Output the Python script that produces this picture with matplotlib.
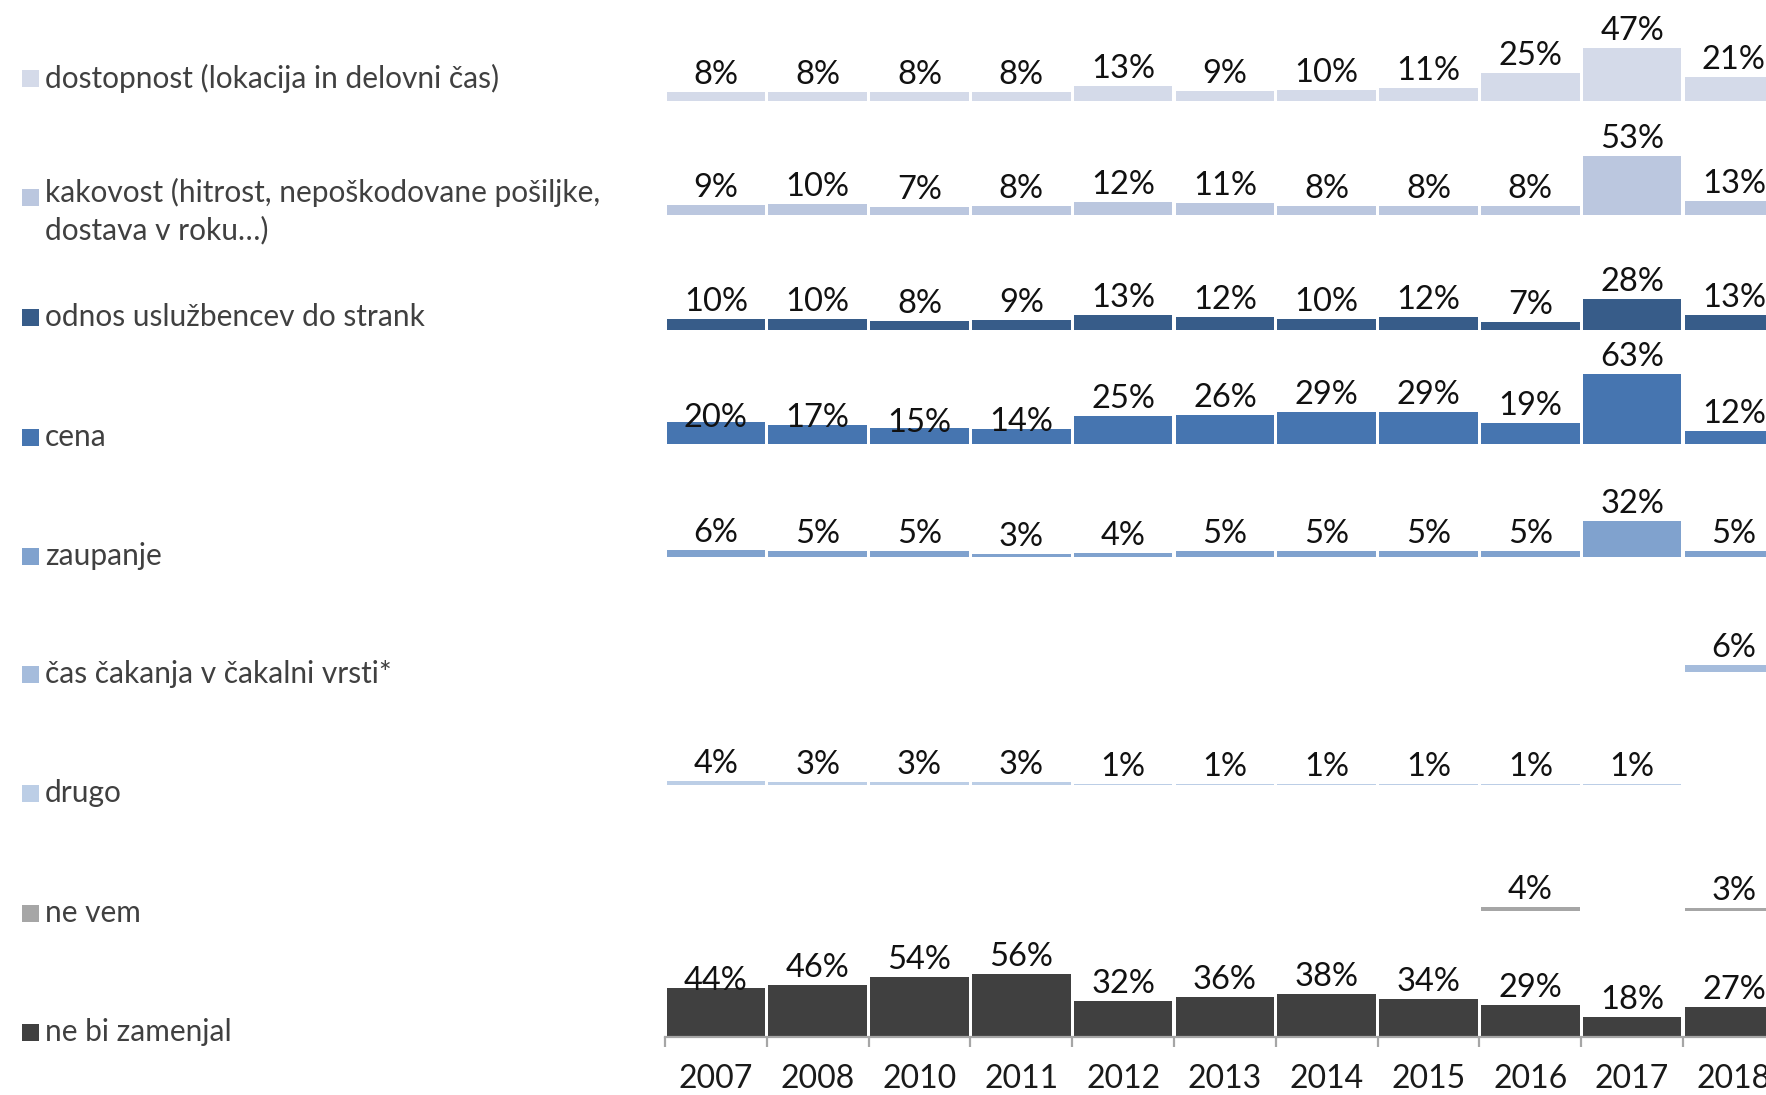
import matplotlib
matplotlib.use("Agg")
import matplotlib.pyplot as plt
from matplotlib.patches import Rectangle

plt.rcParams['font.family'] = ['Lato', 'DejaVu Sans']

# podatki
years = ['2007', '2008', '2010', '2011', '2012', '2013', '2014', '2015', '2016', '2017', '2018']
labels = ['dostopnost (lokacija in delovni čas)',
          'kakovost (hitrost, nepoškodovane pošiljke,\ndostava v roku…)',
          'odnos uslužbencev do strank',
          'cena',
          'zaupanje',
          'čas čakanja v čakalni vrsti*',
          'drugo',
          'ne vem',
          'ne bi zamenjal']
dostopnost = [8, 8, 8, 8, 13, 9, 10, 11, 25, 47, 21]
kakovost = [9, 10, 7, 8, 12, 11, 8, 8, 8, 53, 13]
odnos = [10, 10, 8, 9, 13, 12, 10, 12, 7, 28, 13]
cena = [20, 17, 15, 14, 25, 26, 29, 29, 19, 63, 12]
zaupanje = [6, 5, 5, 3, 4, 5, 5, 5, 5, 32, 5]
cas_cakanja = [None, None, None, None, None, None, None, None, None, None, 6]
drugo = [4, 3, 3, 3, 1, 1, 1, 1, 1, 1, None]
ne_vem = [None, None, None, None, None, None, None, None, 4, None, 3]
ne_bi_zamenjal = [44, 46, 54, 56, 32, 36, 38, 34, 29, 18, 27]
series = [dostopnost, kakovost, odnos, cena, zaupanje, cas_cakanja, drugo, ne_vem, ne_bi_zamenjal]

colors = ['#D4DAE9', '#BBC7DF', '#375C89', '#4675B0', '#80A2CE',
          '#A5BCDC', '#BCCEE6', '#A6A6A6', '#404040']

# postavitev (v pikslih)
W, H = 1766, 1095
px_per_pct = 1.12
row_base_px = [100.7, 215.3, 330, 444.3, 557, 671.7, 785, 911, 1037]
legend_y_px = [78, 197, 317, 437, 556, 674, 793, 913, 1032]
# nekatere oznake so v originalu zamaknjene navzdol
label_nudge = {(3, 0): -13, (3, 1): -10, (3, 2): -12, (3, 3): -10, (8, 0): -10}

fig = plt.figure(figsize=(W / 100, H / 100), dpi=100)
left_px = 665
pitch = 101.8
ax = fig.add_axes([left_px / W, (H - row_base_px[-1]) / H,
                   len(years) * pitch / W, row_base_px[-1] / H])
ax.set_xlim(-0.5, len(years) - 0.5)
ax.set_ylim(0, row_base_px[-1] / px_per_pct)

x = list(range(len(years)))
for r, vals in enumerate(series):
    base = (row_base_px[-1] - row_base_px[r]) / px_per_pct
    for i, v in enumerate(vals):
        if v is None:
            continue
        ax.bar(x[i], v, bottom=base, width=0.97, color=colors[r], linewidth=0)
        off = 8 + label_nudge.get((r, i), 0)
        ax.text(x[i], base + v + off / px_per_pct, f'{v}%', ha='center', va='baseline',
                fontsize=23.5, color='#111111', clip_on=False)

for s in ['top', 'right', 'left']:
    ax.spines[s].set_visible(False)
ax.spines['bottom'].set_color('#A6A6A6')
ax.spines['bottom'].set_linewidth(1.6)
ax.set_yticks([])
ax.set_xticks([i - 0.5 for i in range(len(years) + 1)])
ax.set_xticklabels([])
ax.tick_params(axis='x', which='major', length=7.5, width=1.6, color='#A6A6A6', direction='out')
ax.set_xticks(x, minor=True)
ax.set_xticklabels(years, minor=True)
ax.tick_params(axis='x', which='minor', length=0, pad=19.5, labelsize=23, labelcolor='#1a1a1a')

# legenda na levi
for r, lab in enumerate(labels):
    yc = 1 - legend_y_px[r] / H
    fig.add_artist(Rectangle((22 / W, yc - 9 / H), 17 / W, 17 / H,
                             transform=fig.transFigure, color=colors[r], linewidth=0))
    if '\n' in lab:
        fig.text(45 / W, yc + 19 / H, lab, ha='left', va='top', fontsize=21.5,
                 color='#404040', linespacing=1.35)
    else:
        fig.text(45 / W, yc, lab, ha='left', va='center', fontsize=21.5, color='#404040')

fig.savefig('out.png', dpi=100)
